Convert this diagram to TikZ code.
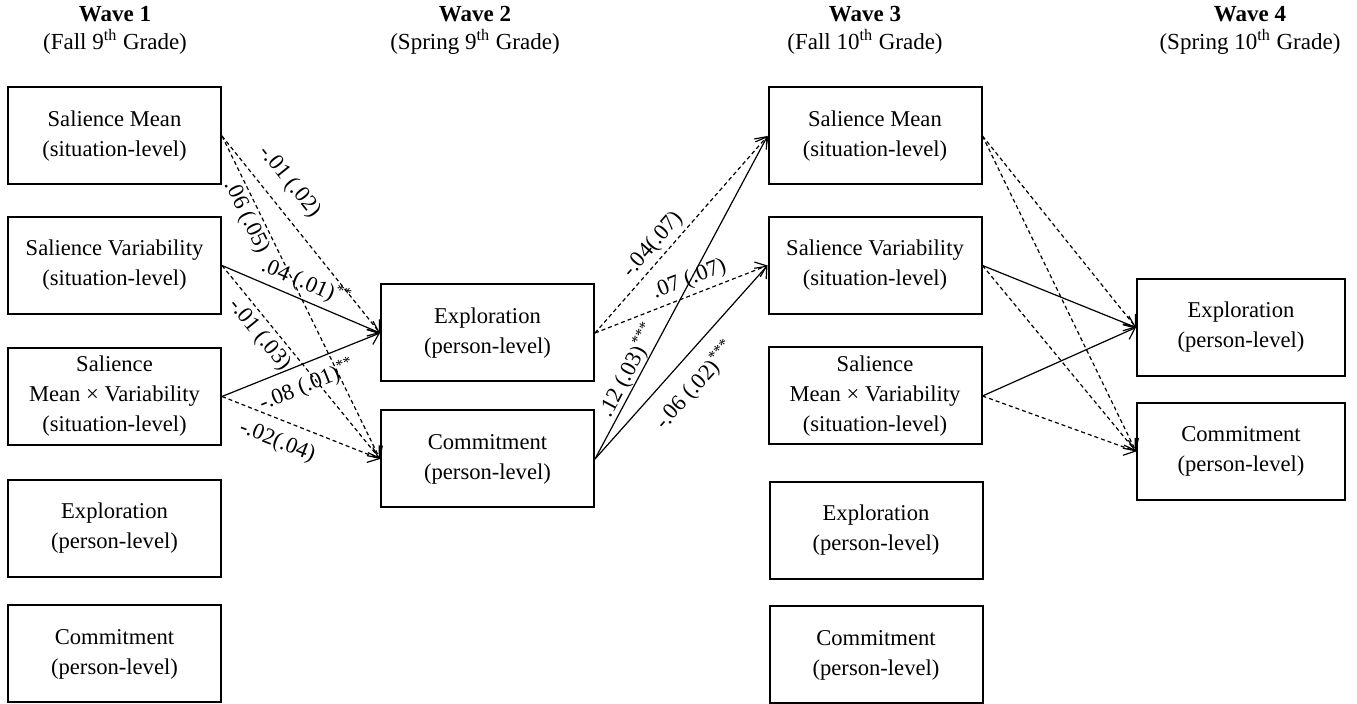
\documentclass[tikz,border=0pt]{standalone}
\usepackage{fontspec}
\setmainfont{Liberation Serif}
\usetikzlibrary{arrows.meta}
\begin{document}
\begin{tikzpicture}[x=0.5pt,y=-0.5pt,
  box/.style={draw, line width=1pt, minimum width=106.5pt, minimum height=48.5pt, align=center, font=\fontsize{11.3}{15}\selectfont, inner sep=0pt},
  hdr/.style={align=center, font=\fontsize{11.5}{14}\selectfont},
  lab/.style={font=\fontsize{11.3}{13}\selectfont, sloped},
  arr/.style={line width=0.6pt, -{Straight Barb[length=5pt,width=8pt]}},
  dsh/.style={dash pattern=on 2pt off 1.5pt}]
\useasboundingbox (0,0) rectangle (1357,704);
% headers
\node[hdr] (h1) at (115,30) {\textbf{Wave 1}\\(Fall 9\textsuperscript{th} Grade)};
\node[hdr] (h2) at (475,30) {\textbf{Wave 2}\\(Spring 9\textsuperscript{th} Grade)};
\node[hdr] (h3) at (865,30) {\textbf{Wave 3}\\(Fall 10\textsuperscript{th} Grade)};
\node[hdr] (h4) at (1250,30) {\textbf{Wave 4}\\(Spring 10\textsuperscript{th} Grade)};
% wave 1
\node[box] (w1a) at (114.5,136) {Salience Mean\\(situation-level)};
\node[box] (w1b) at (114.5,265.5) {Salience Variability\\(situation-level)};
\node[box] (w1c) at (114.5,396.5) {Salience\\Mean × Variability\\(situation-level)};
\node[box] (w1d) at (114.5,528.5) {Exploration\\(person-level)};
\node[box] (w1e) at (114.5,654) {Commitment\\(person-level)};
% wave 2
\node[box] (w2e) at (487.5,333) {Exploration\\(person-level)};
\node[box] (w2c) at (487.5,459) {Commitment\\(person-level)};
% wave 3
\node[box] (w3a) at (875,136) {Salience Mean\\(situation-level)};
\node[box] (w3b) at (875,265.5) {Salience Variability\\(situation-level)};
\node[box] (w3c) at (875,396) {Salience\\Mean × Variability\\(situation-level)};
\node[box] (w3d) at (876,530.5) {Exploration\\(person-level)};
\node[box] (w3e) at (876,655) {Commitment\\(person-level)};
% wave 4
\node[box, minimum width=104pt] (w4e) at (1241,327.5) {Exploration\\(person-level)};
\node[box, minimum width=104pt] (w4c) at (1241,451.5) {Commitment\\(person-level)};
% wave 1 -> wave 2
\draw[arr,dsh] (w1a.east) -- (w2e.west) node[lab, pos=0.31, above, inner sep=6.6pt] {-.01 (.02)};
\draw[arr,dsh] (w1a.east) -- (w2c.west) node[lab, pos=0.233, below, inner sep=1.3pt] {.06 (.05)};
\draw[arr] (w1b.east) -- (w2e.west) node[lab, pos=0.49, above, inner sep=2.5pt] {.04 (.01)\textsuperscript{**}};
\draw[arr,dsh] (w1b.east) -- (w2c.west) node[lab, pos=0.31, below, inner sep=2.1pt] {-.01 (.03)};
\draw[arr] (w1c.east) -- (w2e.west) node[lab, pos=0.49, below, inner sep=4.5pt] {-.08 (.01)\textsuperscript{**}};
\draw[arr,dsh] (w1c.east) -- (w2c.west) node[lab, pos=0.40, below, inner sep=5.4pt] {-.02(.04)};
% wave 2 -> wave 3
\draw[arr,dsh] (w2e.east) -- (w3a.west) node[lab, pos=0.40, above, inner sep=1.8pt] {-.04(.07)};
\draw[arr,dsh] (w2e.east) -- (w3b.west) node[lab, pos=0.58, above, inner sep=2.3pt] {.07 (.07)};
\draw[arr] (w2c.east) -- (w3a.west) node[lab, pos=0.256, above, inner sep=0pt] {.12 (.03)\textsuperscript{***}};
\draw[arr] (w2c.east) -- (w3b.west) node[lab, pos=0.47, below, inner sep=7pt] {-.06 (.02)\textsuperscript{***}};
% wave 3 -> wave 4
\draw[arr,dsh] (w3a.east) -- (w4e.west);
\draw[arr,dsh] (w3a.east) -- (w4c.west);
\draw[arr] (w3b.east) -- (w4e.west);
\draw[arr,dsh] (w3b.east) -- (w4c.west);
\draw[arr] (w3c.east) -- (w4e.west);
\draw[arr,dsh] (w3c.east) -- (w4c.west);
\end{tikzpicture}
\end{document}
